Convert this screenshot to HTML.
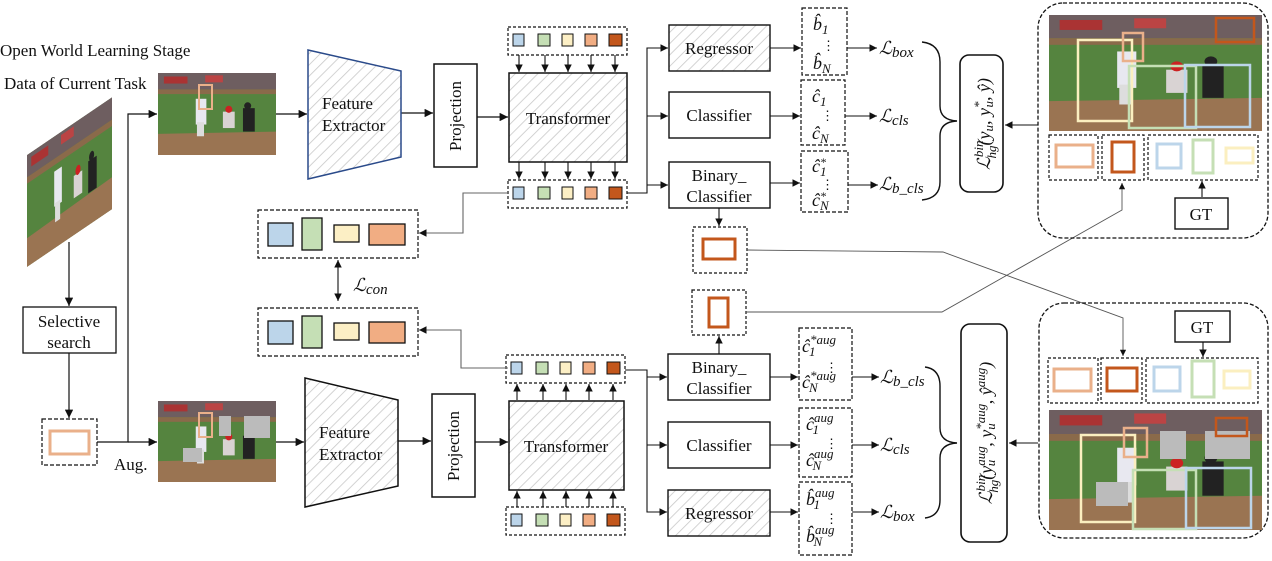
<!DOCTYPE html>
<html><head><meta charset="utf-8"><style>
html,body{margin:0;padding:0;background:#fff}
svg{display:block}
text{font-family:"Liberation Serif",serif;fill:#111}
.t{font-size:17px}
.m{font-size:18px;font-style:italic}
.d{font-style:normal;font-size:13px}
</style></head><body>
<svg width="1272" height="561" viewBox="0 0 1272 561" xmlns="http://www.w3.org/2000/svg">
<defs>
<pattern id="h" width="8" height="8" patternUnits="userSpaceOnUse" patternTransform="rotate(45)">
<rect width="8" height="8" fill="#fff"/><line x1="0" y1="0" x2="0" y2="8" stroke="#c8c8c8" stroke-width="1.6"/></pattern>
<marker id="a" viewBox="0 0 10 10" refX="10" refY="5" markerWidth="7" markerHeight="7" orient="auto-start-reverse"><path d="M0,0L10,5L0,10z" fill="#111"/></marker>
<symbol id="ph" viewBox="0 0 100 70" preserveAspectRatio="none">
<rect width="100" height="70" fill="#55843f"/>
<rect width="100" height="14" fill="#6e5e60"/>
<rect x="5" y="3" width="20" height="6" fill="#a33"/><rect x="40" y="2" width="15" height="6" fill="#b44"/>
<rect y="14" width="100" height="4" fill="#8a6a4a"/>
<path d="M0,52 L100,50 L100,70 L0,70z" fill="#9a7452"/>
<rect x="32" y="22" width="9" height="22" fill="#e8e8f0"/><rect x="33" y="42" width="6" height="12" fill="#ddd"/>
<rect x="55" y="33" width="10" height="14" fill="#d9d3d3"/><circle cx="60" cy="31" r="3" fill="#c22"/>
<rect x="72" y="30" width="10" height="20" fill="#222"/><circle cx="76" cy="28" r="3" fill="#222"/>
</symbol>
</defs>

<text class="t" x="0" y="56">Open World Learning Stage</text>
<text class="t" x="4" y="89">Data of Current Task</text>

<g transform="matrix(1,-0.68,0,1,27,155)"><use href="#ph" x="0" y="0" width="85" height="112"/></g>

<g stroke="#111" stroke-width="1.2" fill="none">
<line x1="69" y1="242" x2="69" y2="306" marker-end="url(#a)"/>
<line x1="69" y1="353" x2="69" y2="418" marker-end="url(#a)"/>
<polyline points="97,442 128,442 128,114 157,114" marker-end="url(#a)"/>
<line x1="128" y1="442" x2="157" y2="442" marker-end="url(#a)"/>
<line x1="276" y1="114" x2="307" y2="114" marker-end="url(#a)"/>
<line x1="276" y1="442" x2="304" y2="442" marker-end="url(#a)"/>
<line x1="401" y1="113" x2="433" y2="113" marker-end="url(#a)"/>
<line x1="398" y1="441" x2="431" y2="441" marker-end="url(#a)"/>
<line x1="477" y1="117" x2="508" y2="117" marker-end="url(#a)"/>
<line x1="475" y1="442" x2="508" y2="442" marker-end="url(#a)"/>
</g>

<rect x="23" y="307" width="93" height="46" fill="#fff" stroke="#111" stroke-width="1.3"/>
<text class="t" x="69" y="327" text-anchor="middle">Selective</text>
<text class="t" x="69" y="348" text-anchor="middle">search</text>
<rect x="42" y="419" width="55" height="46" fill="none" stroke="#111" stroke-dasharray="4,2" stroke-width="1.2"/>
<rect x="50" y="431" width="39" height="23" fill="none" stroke="#eab08a" stroke-width="3"/>
<text class="t" x="114" y="470">Aug.</text>

<use href="#ph" x="158" y="73" width="118" height="82"/>
<rect x="199" y="85" width="13" height="24" fill="none" stroke="#eab08a" stroke-width="2"/>
<use href="#ph" x="158" y="401" width="118" height="81"/>
<rect x="199" y="413" width="13" height="24" fill="none" stroke="#eab08a" stroke-width="2"/>
<rect x="219" y="416" width="12" height="20" fill="#bbb"/><rect x="244" y="416" width="26" height="22" fill="#bbb"/><rect x="183" y="448" width="19" height="14" fill="#bbb"/>

<polygon points="308,50 401,71 401,157 308,179" fill="url(#h)" stroke="#2a4a8a" stroke-width="1.5"/>
<text class="t" x="322" y="109">Feature</text><text class="t" x="322" y="131">Extractor</text>
<polygon points="305,378 398,400 398,486 305,507" fill="url(#h)" stroke="#111" stroke-width="1.5"/>
<text class="t" x="319" y="438">Feature</text><text class="t" x="319" y="460">Extractor</text>

<rect x="434" y="64" width="43" height="103" fill="#fff" stroke="#111" stroke-width="1.5"/>
<text class="t" transform="translate(461,116) rotate(-90)" text-anchor="middle">Projection</text>
<rect x="432" y="394" width="43" height="103" fill="#fff" stroke="#111" stroke-width="1.5"/>
<text class="t" transform="translate(459,446) rotate(-90)" text-anchor="middle">Projection</text>

<rect x="509" y="73" width="118" height="89" fill="url(#h)" stroke="#111" stroke-width="1.5"/>
<text class="t" x="568" y="124" text-anchor="middle">Transformer</text>
<rect x="509" y="401" width="115" height="89" fill="url(#h)" stroke="#111" stroke-width="1.5"/>
<text class="t" x="566" y="452" text-anchor="middle">Transformer</text>

<g id="tok">
<rect x="508" y="27" width="119" height="28" fill="#fff" stroke="#111" stroke-dasharray="3,2" stroke-width="1.2"/>
<rect x="513" y="34" width="11" height="12" fill="#bcd5ea" stroke="#111"/>
<rect x="538" y="34" width="12" height="12" fill="#c5dfb5" stroke="#111"/>
<rect x="562" y="34" width="11" height="12" fill="#fcefc5" stroke="#111"/>
<rect x="585" y="34" width="12" height="12" fill="#f1ad83" stroke="#111"/>
<rect x="609" y="34" width="13" height="12" fill="#c3571c" stroke="#111"/>
</g>
<use href="#tok" y="153"/>
<use href="#tok" x="-2" y="328"/>
<use href="#tok" x="-2" y="480"/>
<g stroke="#111" stroke-width="1.1" fill="none" marker-end="url(#a)">
<line x1="519" y1="55" x2="519" y2="72"/><line x1="545" y1="55" x2="545" y2="72"/><line x1="568" y1="55" x2="568" y2="72"/><line x1="591" y1="55" x2="591" y2="72"/><line x1="615" y1="55" x2="615" y2="72"/>
<line x1="519" y1="162" x2="519" y2="179"/><line x1="545" y1="162" x2="545" y2="179"/><line x1="568" y1="162" x2="568" y2="179"/><line x1="591" y1="162" x2="591" y2="179"/><line x1="615" y1="162" x2="615" y2="179"/>
<line x1="517" y1="400" x2="517" y2="384"/><line x1="543" y1="400" x2="543" y2="384"/><line x1="566" y1="400" x2="566" y2="384"/><line x1="589" y1="400" x2="589" y2="384"/><line x1="613" y1="400" x2="613" y2="384"/>
<line x1="517" y1="507" x2="517" y2="491"/><line x1="543" y1="507" x2="543" y2="491"/><line x1="566" y1="507" x2="566" y2="491"/><line x1="589" y1="507" x2="589" y2="491"/><line x1="613" y1="507" x2="613" y2="491"/>
</g>

<g stroke="#111" stroke-width="1.1" fill="none">
<polyline points="627,193 647,193 647,48 668,48" marker-end="url(#a)"/>
<line x1="647" y1="116" x2="668" y2="116" marker-end="url(#a)"/>
<line x1="647" y1="185" x2="668" y2="185" marker-end="url(#a)"/>
<polyline points="625,370 647,370 647,512 667,512" marker-end="url(#a)"/>
<line x1="647" y1="377" x2="667" y2="377" marker-end="url(#a)"/>
<line x1="647" y1="445" x2="667" y2="445" marker-end="url(#a)"/>
</g>
<g stroke="#666" stroke-width="1.1" fill="none">
<polyline points="508,193 463,193 463,233 419,233" marker-end="url(#a)"/>
<polyline points="508,368 461,368 461,330 419,330" marker-end="url(#a)"/>
<line x1="338" y1="260" x2="338" y2="301" marker-start="url(#a)" marker-end="url(#a)" stroke="#111"/>
</g>

<g id="cb">
<rect x="258" y="210" width="160" height="48" fill="none" stroke="#111" stroke-dasharray="4,2" stroke-width="1.2"/>
<rect x="268" y="223" width="25" height="23" fill="#bcd5ea" stroke="#111" stroke-width="1.3"/>
<rect x="302" y="218" width="20" height="32" fill="#c5dfb5" stroke="#111" stroke-width="1.3"/>
<rect x="334" y="225" width="25" height="17" fill="#fcefc5" stroke="#111" stroke-width="1.3"/>
<rect x="369" y="224" width="36" height="21" fill="#f1ad83" stroke="#111" stroke-width="1.3"/>
</g>
<use href="#cb" y="98"/>
<text class="m" x="353" y="291" font-size="20">ℒ<tspan font-size="15" dy="3">con</tspan></text>

<rect x="669" y="25" width="101" height="46" fill="url(#h)" stroke="#111" stroke-width="1.4"/>
<text class="t" x="719" y="54" text-anchor="middle">Regressor</text>
<rect x="669" y="92" width="101" height="46" fill="#fff" stroke="#111" stroke-width="1.4"/>
<text class="t" x="719" y="121" text-anchor="middle">Classifier</text>
<rect x="669" y="162" width="101" height="46" fill="#fff" stroke="#111" stroke-width="1.4"/>
<text class="t" x="719" y="181" text-anchor="middle">Binary_</text><text class="t" x="719" y="202" text-anchor="middle">Classifier</text>

<rect x="668" y="354" width="102" height="46" fill="#fff" stroke="#111" stroke-width="1.4"/>
<text class="t" x="719" y="373" text-anchor="middle">Binary_</text><text class="t" x="719" y="394" text-anchor="middle">Classifier</text>
<rect x="668" y="422" width="102" height="46" fill="#fff" stroke="#111" stroke-width="1.4"/>
<text class="t" x="719" y="451" text-anchor="middle">Classifier</text>
<rect x="668" y="490" width="102" height="46" fill="url(#h)" stroke="#111" stroke-width="1.4"/>
<text class="t" x="719" y="519" text-anchor="middle">Regressor</text>

<g stroke="#111" stroke-width="1.1" fill="none">
<line x1="719" y1="208" x2="719" y2="226" marker-end="url(#a)"/>
<line x1="719" y1="354" x2="719" y2="336" marker-end="url(#a)"/>
</g>
<rect x="693" y="227" width="54" height="46" fill="none" stroke="#111" stroke-dasharray="3,2" stroke-width="1.2"/>
<rect x="703" y="239" width="32" height="20" fill="none" stroke="#c3571c" stroke-width="3"/>
<rect x="692" y="290" width="54" height="45" fill="none" stroke="#111" stroke-dasharray="3,2" stroke-width="1.2"/>
<rect x="709" y="298" width="19" height="29" fill="none" stroke="#c3571c" stroke-width="3"/>
<g stroke="#555" stroke-width="0.9" fill="none">
<polyline points="747,250 943,252 1123,318 1123,356" marker-end="url(#a)"/>
<polyline points="746,312 942,312 1122,210 1122,183" marker-end="url(#a)"/>
</g>

<g stroke="#111" stroke-width="1.1" fill="none" marker-end="url(#a)">
<line x1="770" y1="48" x2="801" y2="48"/><line x1="770" y1="116" x2="800" y2="116"/><line x1="770" y1="183" x2="800" y2="183"/>
<line x1="847" y1="48" x2="877" y2="48"/><line x1="845" y1="116" x2="877" y2="116"/><line x1="848" y1="185" x2="878" y2="185"/>
<line x1="770" y1="377" x2="798" y2="377"/><line x1="770" y1="445" x2="798" y2="445"/><line x1="770" y1="512" x2="798" y2="512"/>
<line x1="852" y1="377" x2="879" y2="377"/><line x1="852" y1="445" x2="879" y2="445"/><line x1="852" y1="512" x2="879" y2="512"/>
</g>
<g fill="none" stroke="#111" stroke-width="1.2" stroke-dasharray="4,2">
<rect x="802" y="8" width="45" height="67"/><rect x="801" y="80" width="44" height="65"/><rect x="801" y="151" width="47" height="61"/>
<rect x="799" y="328" width="53" height="72"/><rect x="799" y="408" width="53" height="69"/><rect x="799" y="482" width="53" height="73"/>
</g>
<g>
<text class="m" x="813" y="30">b̂<tspan font-size="13" dy="4">1</tspan></text><text class="d" x="822" y="50">⋮</text><text class="m" x="813" y="69">b̂<tspan font-size="13" dy="4">N</tspan></text>
<text class="m" x="812" y="102">ĉ<tspan font-size="13" dy="4">1</tspan></text><text class="d" x="821" y="120">⋮</text><text class="m" x="812" y="139">ĉ<tspan font-size="13" dy="4">N</tspan></text>
<text class="m" x="812" y="172">ĉ<tspan font-size="12" dy="-6">*</tspan><tspan font-size="13" dx="-6" dy="10">1</tspan></text><text class="d" x="821" y="189">⋮</text><text class="m" x="812" y="206">ĉ<tspan font-size="12" dy="-6">*</tspan><tspan font-size="13" dx="-6" dy="10">N</tspan></text>

<text class="m" x="802" y="352">ĉ<tspan font-size="13" dy="-8">*aug</tspan><tspan font-size="13" dx="-27" dy="12">1</tspan></text><text class="d" x="825" y="372">⋮</text><text class="m" x="802" y="388">ĉ<tspan font-size="13" dy="-8">*aug</tspan><tspan font-size="13" dx="-27" dy="12">N</tspan></text>
<text class="m" x="806" y="430">ĉ<tspan font-size="13" dy="-8">aug</tspan><tspan font-size="13" dx="-21" dy="12">1</tspan></text><text class="d" x="825" y="448">⋮</text><text class="m" x="806" y="466">ĉ<tspan font-size="13" dy="-8">aug</tspan><tspan font-size="13" dx="-21" dy="12">N</tspan></text>
<text class="m" x="806" y="505">b̂<tspan font-size="13" dy="-8">aug</tspan><tspan font-size="13" dx="-21" dy="12">1</tspan></text><text class="d" x="825" y="523">⋮</text><text class="m" x="806" y="542">b̂<tspan font-size="13" dy="-8">aug</tspan><tspan font-size="13" dx="-21" dy="12">N</tspan></text>
</g>
<text class="m" x="879" y="54" font-size="20">ℒ<tspan font-size="15" dy="3">box</tspan></text>
<text class="m" x="879" y="122" font-size="20">ℒ<tspan font-size="15" dy="3">cls</tspan></text>
<text class="m" x="879" y="190" font-size="20">ℒ<tspan font-size="15" dy="3">b_cls</tspan></text>
<text class="m" x="880" y="383" font-size="20">ℒ<tspan font-size="15" dy="3">b_cls</tspan></text>
<text class="m" x="880" y="451" font-size="20">ℒ<tspan font-size="15" dy="3">cls</tspan></text>
<text class="m" x="880" y="518" font-size="20">ℒ<tspan font-size="15" dy="3">box</tspan></text>

<g fill="none" stroke="#111" stroke-width="1.4">
<path d="M922,42 Q940,44 940,62 L940,106 Q940,120 957,121 Q940,122 940,136 L940,182 Q940,198 922,200"/>
<path d="M925,367 Q940,369 940,386 L940,428 Q940,442 957,443 Q940,444 940,458 L940,500 Q940,516 925,518"/>
</g>
<rect x="960" y="55" width="43" height="137" rx="9" fill="#fff" stroke="#111" stroke-width="1.6"/>
<text class="m" font-size="20" transform="translate(990,124) rotate(-90)" text-anchor="middle">ℒ<tspan font-size="13" dy="-7">bin</tspan><tspan font-size="13" dx="-18" dy="13">hg</tspan><tspan dy="-6">(y</tspan><tspan font-size="13" dy="3">u</tspan><tspan dy="-3">, y</tspan><tspan font-size="13" dy="-7">*</tspan><tspan font-size="13" dx="-6" dy="10">u</tspan><tspan dy="-3">, ŷ)</tspan></text>
<rect x="961" y="324" width="46" height="218" rx="9" fill="#fff" stroke="#111" stroke-width="1.6"/>
<text class="m" font-size="20" transform="translate(992,433) rotate(-90)" text-anchor="middle">ℒ<tspan font-size="13" dy="-7">bin</tspan><tspan font-size="13" dx="-18" dy="13">hg</tspan><tspan dy="-6">(y</tspan><tspan font-size="13" dy="-7">aug</tspan><tspan font-size="13" dx="-20" dy="10">u</tspan><tspan dx="13" dy="-3">, y</tspan><tspan font-size="13" dy="-7">*aug</tspan><tspan font-size="13" dx="-26" dy="10">u</tspan><tspan dx="19" dy="-3">, ŷ</tspan><tspan font-size="13" dy="-7">aug</tspan><tspan dy="7">)</tspan></text>
<g stroke="#111" stroke-width="1.1" fill="none" marker-end="url(#a)">
<line x1="1038" y1="125" x2="1005" y2="125"/>
<line x1="1038" y1="443" x2="1009" y2="443"/>
<line x1="1202" y1="197" x2="1202" y2="181"/>
<line x1="1203" y1="342" x2="1203" y2="357"/>
</g>

<rect x="1038" y="3" width="230" height="235" rx="25" fill="none" stroke="#111" stroke-dasharray="4,2" stroke-width="1.3"/>
<use href="#ph" x="1049" y="15" width="213" height="116"/>
<g fill="none" stroke-width="2.5">
<rect x="1078" y="40" width="54" height="81" stroke="#fbefc0"/><rect x="1123" y="33" width="20" height="28" stroke="#eab08a"/>
<rect x="1129" y="66" width="67" height="62" stroke="#c5dfb5"/><rect x="1185" y="65" width="65" height="62" stroke="#bcd5ea"/>
<rect x="1216" y="18" width="38" height="24" stroke="#c3571c"/>
</g>
<g fill="none" stroke="#111" stroke-dasharray="3,2" stroke-width="1.2">
<rect x="1049" y="135" width="49" height="45"/><rect x="1102" y="135" width="42" height="45"/><rect x="1148" y="135" width="110" height="45"/>
</g>
<g fill="none" stroke-width="3">
<rect x="1056" y="145" width="37" height="22" stroke="#eab08a"/><rect x="1112" y="142" width="22" height="30" stroke="#c3571c"/>
<rect x="1157" y="144" width="24" height="24" stroke="#bcd5ea"/><rect x="1193" y="140" width="20" height="33" stroke="#c5dfb5"/><rect x="1226" y="148" width="27" height="15" stroke="#fbefc0"/>
</g>
<rect x="1175" y="198" width="53" height="31" fill="#fff" stroke="#111" stroke-width="1.4"/>
<text class="t" x="1201" y="220" text-anchor="middle">GT</text>

<rect x="1039" y="303" width="229" height="235" rx="25" fill="none" stroke="#111" stroke-dasharray="4,2" stroke-width="1.3"/>
<rect x="1175" y="311" width="55" height="31" fill="#fff" stroke="#111" stroke-width="1.4"/>
<text class="t" x="1202" y="333" text-anchor="middle">GT</text>
<g fill="none" stroke="#111" stroke-dasharray="3,2" stroke-width="1.2">
<rect x="1048" y="358" width="50" height="45"/><rect x="1101" y="358" width="41" height="45"/><rect x="1146" y="358" width="112" height="45"/>
</g>
<g fill="none" stroke-width="3">
<rect x="1054" y="369" width="37" height="22" stroke="#eab08a"/><rect x="1107" y="368" width="30" height="23" stroke="#c3571c"/>
<rect x="1154" y="367" width="26" height="24" stroke="#bcd5ea"/><rect x="1192" y="361" width="22" height="36" stroke="#c5dfb5"/><rect x="1224" y="371" width="26" height="17" stroke="#fbefc0"/>
</g>
<use href="#ph" x="1049" y="410" width="213" height="120"/>
<rect x="1160" y="431" width="26" height="28" fill="#bbb"/><rect x="1205" y="431" width="45" height="28" fill="#bbb"/><rect x="1096" y="482" width="32" height="24" fill="#bbb"/>
<g fill="none" stroke-width="2.5">
<rect x="1081" y="435" width="54" height="87" stroke="#fbefc0"/><rect x="1124" y="428" width="23" height="29" stroke="#eab08a"/>
<rect x="1133" y="470" width="63" height="59" stroke="#c5dfb5"/><rect x="1186" y="468" width="65" height="60" stroke="#bcd5ea"/>
<rect x="1216" y="418" width="31" height="18" stroke="#c3571c"/>
</g>
</svg>
</body></html>
